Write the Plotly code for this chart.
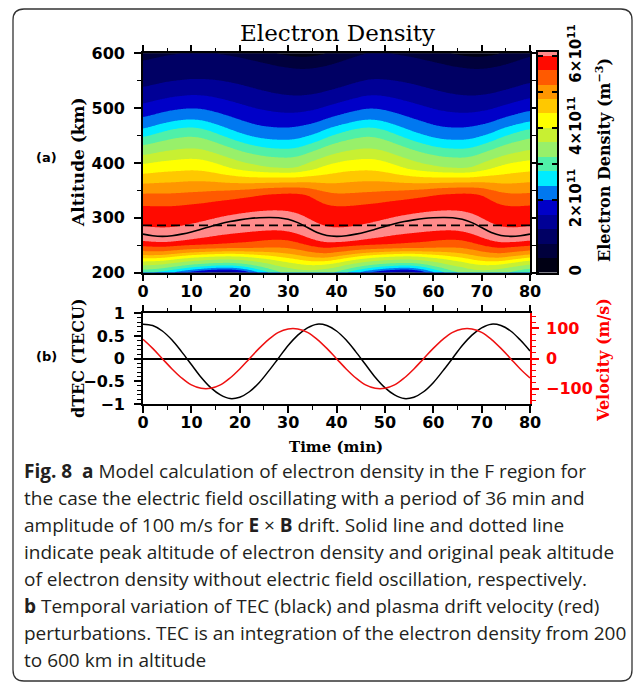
import numpy as np
import plotly.graph_objects as go

W, H = 635, 685

# ---------------- data ----------------
time_min = list(range(0, 81, 2))                      # minutes
peak_alt = [270, 267, 266, 267, 270, 274, 279, 284, 289, 293,
            296, 298.5, 300, 300.5, 300, 297, 291, 282, 273, 267.5,
            266, 267, 270, 274, 279, 284, 289, 293, 296, 298.5,
            300, 300.5, 300, 297, 291, 282, 273, 267.5, 266, 267,
            270]                                      # km, solid line
orig_peak_alt = 286                                   # km, dashed line

# vertical displacement (km) of density contours at several altitude levels
shift_200 = [0, 1, 3, 6, 9, 12, 14, 16, 17, 17,
             15, 11, 6, 1, -4, -7, -9, -10, -9, -7,
             -4, 1, 5, 9, 12, 14.5, 16, 17, 16, 12,
             7, 2, -3, -6, -9, -10, -9, -7, -4, -1,
             2]
shift_250 = [0, -1, -1.5, -0.5, 1, 2, 2.5, 3, 3.5, 4,
             4.5, 5, 6, 7, 7.5, 7, 5, 2, -1, -3,
             -1.5, -0.5, 1, 2, 2.5, 3, 3.5, 4, 4.5, 5,
             6, 7, 7.5, 7, 5, 2, -1, -3, -1.5, -0.5,
             1]
shift_340 = [0, 0, 0, 0, 1, 2, 3, 5, 7, 9,
             12, 15, 19, 23, 25, 27, 26, 20, 11, 3,
             0, 0, 1, 2, 3, 5, 7, 9, 12, 15,
             19, 23, 25, 27, 26, 20, 11, 3, 0, 0,
             1]
shift_390 = [0, 2, 4, 5, 6, 7, 6, 3, -2, -7,
             -12, -16, -19, -22, -23, -24, -22, -15, -8, -2,
             2, 5, 6, 7, 6, 3, -2, -7, -12, -16,
             -19, -22, -23, -24, -22, -15, -8, -3, 1, 3,
             5]
shift_460 = [0, 5, 10, 14, 17, 18, 16, 11, 5, -1,
             -7, -12, -16, -18, -19, -19, -17, -13, -8, 0,
             6, 11, 15, 18, 17, 13, 7, 1, -5, -10,
             -15, -18, -19, -19, -17, -13, -8, 0, 6, 11,
             15]
shift_550 = [0, 4, 8, 11, 13, 15, 15, 14, 12, 9,
             6, 2, -2, -6, -10, -13, -15, -15, -13, -9,
             -4, 2, 8, 13, 15, 14, 12, 9, 6, 2,
             -2, -6, -10, -13, -15, -15, -13, -9, -4, 2,
             8]

# reference electron density profile at t = 0 (1e11 m^-3)
profile_alt = [175, 185, 195, 205, 215, 222, 230, 240, 248, 257,
               264, 271, 278, 285, 300, 322, 344, 362, 380, 398,
               414, 432, 447, 462, 483, 508, 538, 587, 608, 640]
profile_dens = [0.6, 1.5, 2.5, 3.2, 3.7, 4.1, 4.7, 5.25, 5.6, 6.0,
                6.11, 6.15, 6.11, 6.0, 5.82, 5.6, 5.2, 4.8, 4.4, 4.0,
                3.6, 3.2, 2.8, 2.4, 2.0, 1.6, 1.2, 0.8, 0.4, 0.2]

dtec = [0.76, 0.73, 0.61, 0.41, 0.15, -0.13, -0.41, -0.64, -0.80, -0.88,
        -0.85, -0.73, -0.53, -0.27, 0.01, 0.29, 0.52, 0.68, 0.76, 0.73,
        0.61, 0.41, 0.15, -0.13, -0.41, -0.64, -0.80, -0.88, -0.85, -0.73,
        -0.53, -0.27, 0.01, 0.29, 0.52, 0.68, 0.76, 0.73, 0.61, 0.41,
        0.17]                                         # TECU
velocity = [64, 34, 0, -34, -64, -87, -98, -98, -87, -64,
            -34, 0, 34, 64, 87, 98, 98, 87, 64, 34,
            0, -34, -64, -87, -98, -98, -87, -64, -34, 0,
            34, 64, 87, 98, 98, 87, 64, 34, 0, -34,
            -64]                                      # m/s

level_start, level_end, level_size = 0.0, 6.0, 0.4
cbar_top = 6.1
band_colors = ["#000014", "#00003c", "#000064", "#000096", "#0000c8", "#0078f0",
               "#00ecff", "#50f0a8", "#98f06a", "#c8f032", "#ffff00", "#ffc800",
               "#ff9600", "#ff5a00", "#ff0a00", "#ff8a8a"]
cbar_tickvals = [0, 2, 4, 6]
cbar_ticktext = ["0", "2×10<sup>11</sup>", "4×10<sup>11</sup>", "6×10<sup>11</sup>"]

caption_lines = [
    "<b>Fig. 8</b>&nbsp; <b>a</b> Model calculation of electron density in the F region for",
    "the case the electric field oscillating with a period of 36 min and",
    "amplitude of 100 m/s for <b>E</b> × <b>B</b> drift. Solid line and dotted line",
    "indicate peak altitude of electron density and original peak altitude",
    "of electron density without electric field oscillation, respectively.",
    "<b>b</b> Temporal variation of TEC (black) and plasma drift velocity (red)",
    "perturbations. TEC is an integration of the electron density from 200",
    "to 600 km in altitude",
]

# ---------------- build density field ----------------
t_grid = np.linspace(0, 80, 321)
z_grid = np.arange(200, 601, 1.0)


def at(series, t):
    return float(np.interp(t, time_min, series))


dens = np.empty((z_grid.size, t_grid.size))
for j, t in enumerate(t_grid):
    hm = at(peak_alt, t)
    az = [200.0, 250.0, hm, 340.0, 390.0, 460.0, 550.0]
    a_s = [at(shift_200, t), at(shift_250, t), hm - peak_alt[0], at(shift_340, t),
           at(shift_390, t), at(shift_460, t), at(shift_550, t)]
    ref = z_grid - np.interp(z_grid, az, a_s)
    dens[:, j] = np.interp(ref, profile_alt, profile_dens)


def smooth(a, n, axis):
    k = np.ones(n) / n
    pad = [(0, 0), (0, 0)]
    pad[axis] = (n // 2, n // 2)
    ap = np.pad(a, pad, mode="edge")
    return np.apply_along_axis(lambda v: np.convolve(v, k, mode="valid"), axis, ap)


dens = smooth(smooth(dens, 9, 1), 5, 0)

n_levels = int(round((level_end - level_start) / level_size)) + 1
cs_contour = [[0.0, band_colors[0]]] + [[(k + 1) / n_levels, c] for k, c in enumerate(band_colors)]
cs_bar = [[k / (len(band_colors) - 1), c] for k, c in enumerate(band_colors)]
cb_edges = [level_start + k * level_size for k in range(n_levels)] + [cbar_top]


# ---------------- layout helpers ----------------
def px(x):
    return x / W


def py(y):
    return 1 - y / H


TICKFONT = dict(family="DejaVu Sans", size=16, color="black", weight="bold")
SERIF_B = dict(family="DejaVu Serif", size=16, color="black", weight="bold")

XA = [px(143), px(530)]
YA = [py(272.5), py(53.3)]
YB = [py(404), py(313.3)]
XC = [px(538), px(557)]
YC = [py(272.5), py(52)]

fig = go.Figure()

fig.add_trace(go.Contour(
    x=t_grid, y=z_grid, z=dens, autocontour=False,
    contours=dict(start=level_start, end=level_end, size=level_size,
                  coloring="fill", showlines=False),
    colorscale=cs_contour, showscale=False, line=dict(width=0),
    hoverinfo="skip", xaxis="x", yaxis="y"))
fig.add_trace(go.Scatter(x=time_min, y=peak_alt, mode="lines",
                         line=dict(color="black", width=1.6, shape="spline"),
                         xaxis="x", yaxis="y", showlegend=False))
fig.add_trace(go.Scatter(x=[time_min[0], time_min[-1]], y=[orig_peak_alt, orig_peak_alt],
                         mode="lines", line=dict(color="black", width=1.8, dash="9px,5px"),
                         xaxis="x", yaxis="y", showlegend=False))

fig.add_trace(go.Heatmap(x=[0, 1], y=cb_edges, z=[[k] for k in range(len(band_colors))],
                         colorscale=cs_bar, zmin=0, zmax=len(band_colors) - 1,
                         showscale=False, xaxis="x3", yaxis="y4", hoverinfo="skip"))

fig.add_trace(go.Scatter(x=time_min, y=dtec, mode="lines",
                         line=dict(color="black", width=1.5, shape="spline"),
                         xaxis="x2", yaxis="y2", showlegend=False))
fig.add_trace(go.Scatter(x=time_min, y=velocity, mode="lines",
                         line=dict(color="#ee1111", width=1.5, shape="spline"),
                         xaxis="x2", yaxis="y3", showlegend=False))

common = dict(showgrid=False, zeroline=False, showline=True, linecolor="black", linewidth=1.6,
              ticks="outside", tickwidth=1.6, ticklen=7, tickcolor="black",
              tickfont=TICKFONT, automargin=False)

fig.update_layout(
    template="none",
    width=W, height=H, margin=dict(l=0, r=0, t=0, b=0, autoexpand=False),
    paper_bgcolor="white", plot_bgcolor="white", showlegend=False,
    xaxis=dict(domain=XA, anchor="y", range=[0, 80], tick0=0, dtick=10, mirror="ticks",
               minor=dict(dtick=5, ticks="outside", ticklen=4, tickwidth=1.4, tickcolor="black"),
               ticklabelstandoff=-4, **common),
    yaxis=dict(domain=YA, anchor="x", range=[200, 600], tick0=200, dtick=100, mirror="ticks",
               minor=dict(dtick=50, ticks="outside", ticklen=4, tickwidth=1.4, tickcolor="black"),
               ticklabelstandoff=6, **common),
    xaxis2=dict(domain=XA, anchor="y2", range=[0, 80], tick0=0, dtick=10, mirror="ticks",
                minor=dict(dtick=5, ticks="outside", ticklen=4, tickwidth=1.4, tickcolor="black"),
                ticklabelstandoff=-4, **common),
    yaxis2=dict(domain=YB, anchor="x2", range=[-1, 1],
                tickvals=[-1, -0.5, 0, 0.5, 1], ticktext=["−1", "−0.5", "0", "0.5", "1"],
                minor=dict(dtick=0.1, ticks="outside", ticklen=4, tickwidth=1.2, tickcolor="black"),
                ticklabelstandoff=6, zerolinecolor="black", zerolinewidth=1.6,
                **{**common, "zeroline": True}),
    yaxis3=dict(domain=YB, anchor="x2", overlaying="y2", side="right", range=[-150, 150],
                tickvals=[-100, 0, 100], ticktext=["−100", "0", "100"], automargin=False,
                showgrid=False, zeroline=False, showline=True, linecolor="red", linewidth=1.6,
                ticks="outside", tickwidth=1.6, ticklen=7, tickcolor="red",
                minor=dict(dtick=20, ticks="outside", ticklen=4, tickwidth=1.2, tickcolor="red"),
                tickfont=dict(TICKFONT, color="red"), ticklabelstandoff=4),
    xaxis3=dict(domain=XC, anchor="y4", range=[0, 1], showticklabels=False, ticks="",
                showgrid=False, zeroline=False, showline=True, linecolor="black",
                linewidth=1.6, mirror=True, automargin=False),
    yaxis4=dict(domain=YC, anchor="x3", side="right", range=[0, cbar_top],
                tickvals=cbar_tickvals, ticktext=cbar_ticktext, tickangle=-90,
                ticks="inside", ticklen=5, tickwidth=1.6, tickcolor="black", mirror="ticks",
                minor=dict(tickvals=[3, 5], ticks="inside", ticklen=5, tickwidth=1.6,
                           tickcolor="black"),
                showgrid=False, zeroline=False, showline=True, linecolor="black", linewidth=1.6,
                tickfont=dict(family="DejaVu Sans", size=15, color="black", weight="bold"),
                ticklabelstandoff=4, automargin=False),
)

ann = []
ann.append(dict(text="Electron Density", x=px(337), y=py(33),
                font=dict(family="DejaVu Serif", size=23, color="black")))
ann.append(dict(text="Altitude (km)", x=px(78), y=py(162), textangle=-90,
                font=dict(SERIF_B, size=17)))
ann.append(dict(text="dTEC (TECU)", x=px(78), y=py(358), textangle=-90, font=SERIF_B))
ann.append(dict(text="Time (min)", x=px(336), y=py(447), font=dict(SERIF_B, size=15)))
ann.append(dict(text="Velocity (m/s)", x=px(603), y=py(360), textangle=-90,
                font=dict(SERIF_B, color="red")))
ann.append(dict(text="Electron Density (m<sup>−3</sup>)", x=px(603), y=py(160), textangle=-90,
                font=SERIF_B))
ann.append(dict(text="(a)", x=px(46), y=py(158),
                font=dict(family="DejaVu Sans", size=13, color="black", weight="bold")))
ann.append(dict(text="(b)", x=px(46), y=py(356),
                font=dict(family="DejaVu Sans", size=13, color="black", weight="bold")))
for i, line in enumerate(caption_lines):
    ann.append(dict(text=line, x=px(22), y=py(471 + 27 * i), xanchor="left",
                    font=dict(family="Open Sans", size=19, color="#231f20")))
for a in ann:
    a.setdefault("xanchor", "center")
    a.update(xref="paper", yref="paper", yanchor="middle", showarrow=False)
fig.update_layout(annotations=ann)


def rrect(x0, y0, x1, y1, r):
    rx, ry = r / W, r / H
    X0, X1, Y0, Y1 = px(x0), px(x1), py(y0), py(y1)
    return (f"M {X0+rx},{Y0} L {X1-rx},{Y0} Q {X1},{Y0} {X1},{Y0-ry} "
            f"L {X1},{Y1+ry} Q {X1},{Y1} {X1-rx},{Y1} L {X0+rx},{Y1} "
            f"Q {X0},{Y1} {X0},{Y1+ry} L {X0},{Y0-ry} Q {X0},{Y0} {X0+rx},{Y0} Z")


fig.add_shape(type="path", xref="paper", yref="paper", path=rrect(13, 9, 632, 681, 11),
              line=dict(color="#333333", width=1.3), layer="below")

fig.write_html("out.html")
